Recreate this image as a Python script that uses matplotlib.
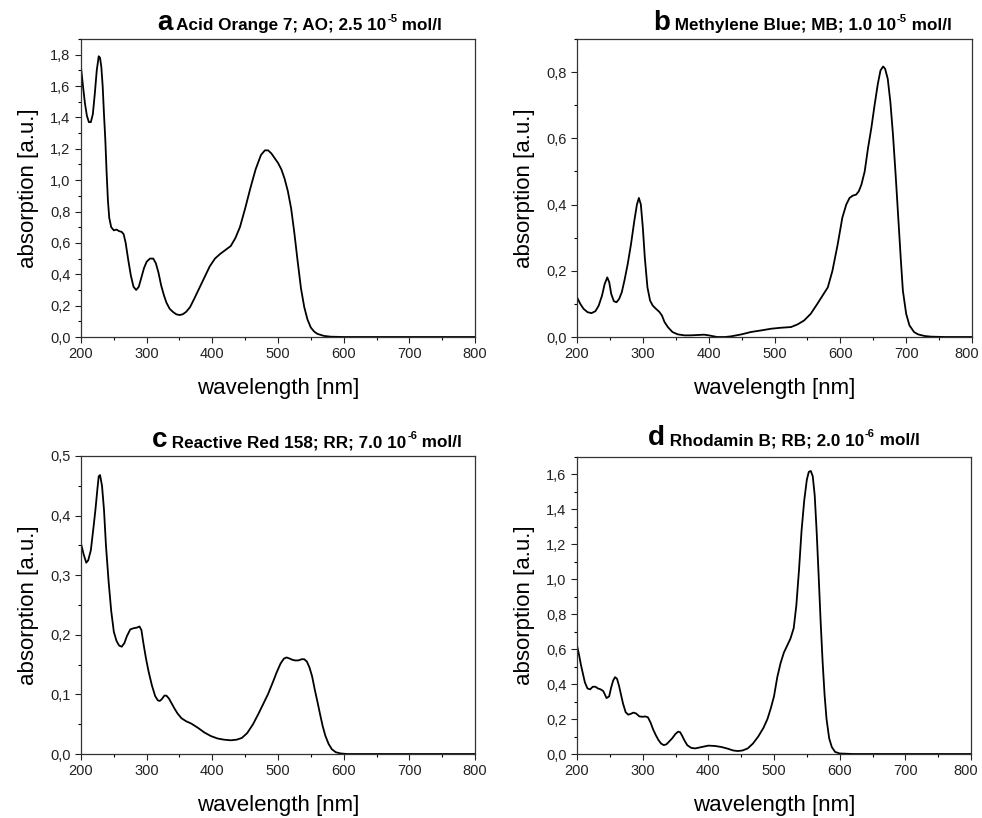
import numpy as np
import matplotlib
matplotlib.use("Agg")
import matplotlib.pyplot as plt
from matplotlib.ticker import MultipleLocator, FuncFormatter
from matplotlib.transforms import ScaledTranslation

plt.rcParams['font.family'] = ['Liberation Sans', 'DejaVu Sans']

# a: Acid Orange 7
ao_wl = [200, 203, 206, 209, 212, 215, 218, 221, 224, 227, 229, 231, 233, 235, 237, 239, 241, 243,
         246, 250, 254, 258, 262, 265, 268, 272, 276, 280, 284, 288, 292, 296, 300, 305, 310, 314,
         318, 322, 326, 330, 335, 340, 345, 350, 355, 360, 366, 372, 380, 388, 396, 404, 412, 420,
         428, 435, 442, 450, 458, 466, 474, 480, 485, 490, 495, 500, 505, 510, 515, 520, 525, 530,
         535, 540, 545, 550, 555, 560, 570, 580, 600, 650, 700, 800]
ao_abs = [1.72, 1.60, 1.49, 1.41, 1.37, 1.37, 1.42, 1.55, 1.70, 1.79, 1.78, 1.72, 1.60, 1.42, 1.26,
          1.05, 0.87, 0.76, 0.70, 0.68, 0.685, 0.675, 0.67, 0.655, 0.60, 0.49, 0.39, 0.32, 0.30,
          0.32, 0.38, 0.44, 0.48, 0.50, 0.50, 0.47, 0.41, 0.33, 0.27, 0.22, 0.18, 0.16, 0.145,
          0.14, 0.145, 0.16, 0.19, 0.24, 0.31, 0.38, 0.45, 0.50, 0.53, 0.555, 0.58, 0.63, 0.70,
          0.82, 0.95, 1.07, 1.16, 1.19, 1.19, 1.17, 1.14, 1.11, 1.07, 1.01, 0.93, 0.82, 0.66,
          0.48, 0.31, 0.19, 0.11, 0.06, 0.035, 0.02, 0.007, 0.002, 0.0, 0.0, 0.0, 0.0]

# b: Methylene Blue
mb_wl = [200, 205, 210, 216, 222, 228, 233, 238, 242, 246, 249, 252, 256, 260, 264, 268, 272, 277,
         282, 287, 291, 294, 297, 300, 303, 307, 311, 315, 320, 325, 329, 333, 338, 345, 353, 363,
         373, 383, 393, 400, 413, 425, 434, 450, 464, 480, 495, 510, 525, 535, 545, 555, 565, 573,
         581, 588, 596, 603, 609, 614, 619, 624, 628, 632, 637, 642, 647, 652, 657, 661, 665, 668,
         672, 676, 680, 684, 688, 692, 695, 700, 705, 712, 718, 728, 738, 760, 800]
mb_abs = [0.12, 0.10, 0.085, 0.075, 0.072, 0.078, 0.095, 0.125, 0.16, 0.18, 0.165, 0.13, 0.108,
          0.105, 0.115, 0.135, 0.17, 0.22, 0.28, 0.35, 0.40, 0.42, 0.40, 0.33, 0.24, 0.15, 0.11,
          0.095, 0.085, 0.076, 0.065, 0.045, 0.03, 0.015, 0.008, 0.005, 0.005, 0.006, 0.007, 0.005,
          0.0, 0.0, 0.002, 0.008, 0.015, 0.02, 0.025, 0.028, 0.03, 0.038, 0.05, 0.07, 0.1, 0.125,
          0.15, 0.2, 0.28, 0.36, 0.40, 0.42, 0.427, 0.43, 0.44, 0.46, 0.50, 0.57, 0.63, 0.70, 0.765,
          0.805, 0.817, 0.81, 0.78, 0.71, 0.61, 0.49, 0.36, 0.23, 0.14, 0.07, 0.035, 0.015, 0.008,
          0.003, 0.001, 0.0, 0.0]

# c: Reactive Red 158
rr_wl = [200, 204, 208, 211, 215, 219, 222, 225, 227, 229, 232, 235, 238, 242, 246, 250, 254, 258,
         262, 266, 270, 275, 280, 285, 289, 292, 295, 299, 303, 308, 313, 317, 320, 323, 327, 330,
         334, 338, 342, 347, 353, 360, 368, 378, 388, 398, 408, 418, 428, 437, 445, 453, 462, 470,
         478, 485, 492, 498, 504, 509, 513, 518, 522, 526, 531, 536, 540, 544, 548, 552, 556, 560,
         564, 568, 572, 577, 582, 588, 595, 605, 650, 700, 800]
rr_abs = [0.353, 0.335, 0.321, 0.325, 0.342, 0.38, 0.41, 0.445, 0.466, 0.468, 0.45, 0.41, 0.35,
          0.29, 0.24, 0.205, 0.19, 0.182, 0.18, 0.186, 0.198, 0.209, 0.211, 0.212, 0.214, 0.208,
          0.186, 0.16, 0.138, 0.115, 0.097, 0.09, 0.089, 0.092, 0.098, 0.098, 0.093, 0.085, 0.077,
          0.068, 0.06, 0.055, 0.051, 0.044, 0.036, 0.03, 0.026, 0.024, 0.023, 0.024, 0.027, 0.035,
          0.05, 0.067, 0.085, 0.101, 0.12, 0.137, 0.152, 0.16, 0.162, 0.16, 0.158, 0.157, 0.157,
          0.159, 0.159, 0.155, 0.145, 0.13, 0.108, 0.088, 0.067, 0.047, 0.031, 0.017, 0.008,
          0.003, 0.001, 0.0, 0.0, 0.0, 0.0]

# d: Rhodamin B
rb_wl = [200, 203, 206, 209, 212, 216, 220, 224, 228, 232, 236, 240, 245, 249, 252, 255, 258, 261,
         264, 267, 270, 274, 278, 282, 286, 290, 295, 300, 304, 308, 312, 316, 320, 324, 328, 332,
         336, 340, 345, 350, 354, 357, 360, 364, 368, 374, 380, 390, 400, 410, 420, 430, 438, 445,
         452, 460, 468, 476, 484, 490, 495, 500, 505, 510, 515, 520, 525, 530, 534, 538, 542, 546,
         550, 553, 556, 559, 562, 565, 568, 571, 574, 577, 580, 584, 588, 593, 600, 620, 700, 800]
rb_abs = [0.62, 0.57, 0.51, 0.46, 0.41, 0.375, 0.37, 0.385, 0.385, 0.375, 0.37, 0.36, 0.32, 0.33,
          0.38, 0.42, 0.44, 0.43, 0.39, 0.34, 0.29, 0.24, 0.225, 0.23, 0.237, 0.232, 0.215, 0.213,
          0.215, 0.21, 0.18, 0.14, 0.108, 0.08, 0.06, 0.051, 0.055, 0.07, 0.09, 0.115, 0.128, 0.125,
          0.105, 0.075, 0.05, 0.035, 0.032, 0.04, 0.048, 0.046, 0.04, 0.03, 0.02, 0.017, 0.02, 0.032,
          0.06, 0.1, 0.15, 0.2, 0.26, 0.33, 0.44, 0.52, 0.58, 0.62, 0.66, 0.72, 0.85, 1.05, 1.28,
          1.45, 1.57, 1.615, 1.62, 1.59, 1.48, 1.27, 1.02, 0.76, 0.53, 0.34, 0.2, 0.09, 0.04, 0.012,
          0.003, 0.0, 0.0, 0.0]

# title pieces: letter, text before exponent, exponent, text after
panels = [
    (ao_wl, ao_abs, "a", "Acid Orange 7; AO; 2.5 10", "-5", " mol/l", 1.9, 0.2, 0.1, 0.193, 1.03),
    (mb_wl, mb_abs, "b", "Methylene Blue; MB; 1.0 10", "-5", " mol/l", 0.9, 0.2, 0.1, 0.192, 1.03),
    (rr_wl, rr_abs, "c", "Reactive Red 158; RR; 7.0 10", "-6", " mol/l", 0.5, 0.1, 0.05, 0.18, 1.03),
    (rb_wl, rb_abs, "d", "Rhodamin B; RB; 2.0 10", "-6", " mol/l", 1.7, 0.2, 0.1, 0.18, 1.04),
]

# axes rectangles in pixels: left, top, right, bottom
boxes = [(81, 39, 475, 337), (577, 39, 972, 337), (81, 456, 475, 754), (577, 457, 971, 754)]

W, H = 982, 818
fig = plt.figure(figsize=(W / 100, H / 100), dpi=100)

comma = FuncFormatter(lambda v, p: f"{v:.1f}".replace(".", ","))

axes = []
for (wl, ab, letter, t1, sup, t2, ytop, ymaj, ymin, tx, ty), (l, t, r, b) in zip(panels, boxes):
    ax = fig.add_axes([l / W, 1 - b / H, (r - l) / W, (b - t) / H])
    axes.append(ax)
    ax.plot(wl, ab, color="black", lw=1.3)
    ax.set_xlim(200, 800)
    ax.set_ylim(0, ytop)
    ax.xaxis.set_major_locator(MultipleLocator(100))
    ax.xaxis.set_minor_locator(MultipleLocator(50))
    ax.yaxis.set_major_locator(MultipleLocator(ymaj))
    ax.yaxis.set_minor_locator(MultipleLocator(ymin))
    ax.yaxis.set_major_formatter(comma)
    ax.tick_params(which="major", direction="out", length=4, width=0.8, labelsize=10.5, colors="#222222")
    ax.tick_params(which="minor", direction="out", length=2.5, width=0.8)
    for s in ax.spines.values():
        s.set_linewidth(0.9)
        s.set_color("#333333")
    ax.set_xlabel("wavelength [nm]", fontsize=16, labelpad=12)
    ax.set_ylabel("absorption [a.u.]", fontsize=16, labelpad=8)

    # title built from pieces sharing one baseline
    lt = ax.text(tx, ty, letter, transform=ax.transAxes, fontsize=20, fontweight="bold",
                 va="baseline", ha="left")
    a1 = ax.annotate(" " + t1, xy=(1, ty), xycoords=(lt, ax.transAxes), fontsize=12.3,
                     fontweight="bold", va="baseline", ha="left")
    a2 = ax.annotate(sup, xy=(1, ty), xycoords=(a1, ax.transAxes), xytext=(0.5, 6),
                     textcoords="offset points", fontsize=8, fontweight="bold",
                     va="baseline", ha="left")
    ax.annotate(t2, xy=(1, ty), xycoords=(a2, ax.transAxes), fontsize=12.3,
                fontweight="bold", va="baseline", ha="left")

# keep the "800" label of the right-hand panels inside the figure
fig.canvas.draw()
for ax in (axes[1], axes[3]):
    for tick in ax.xaxis.get_major_ticks():
        if abs(tick.get_loc() - 800) < 1e-6:
            lbl = tick.label1
            lbl.set_transform(lbl.get_transform() + ScaledTranslation(-4 / 72, 0, fig.dpi_scale_trans))

fig.savefig("out.png", dpi=100)
